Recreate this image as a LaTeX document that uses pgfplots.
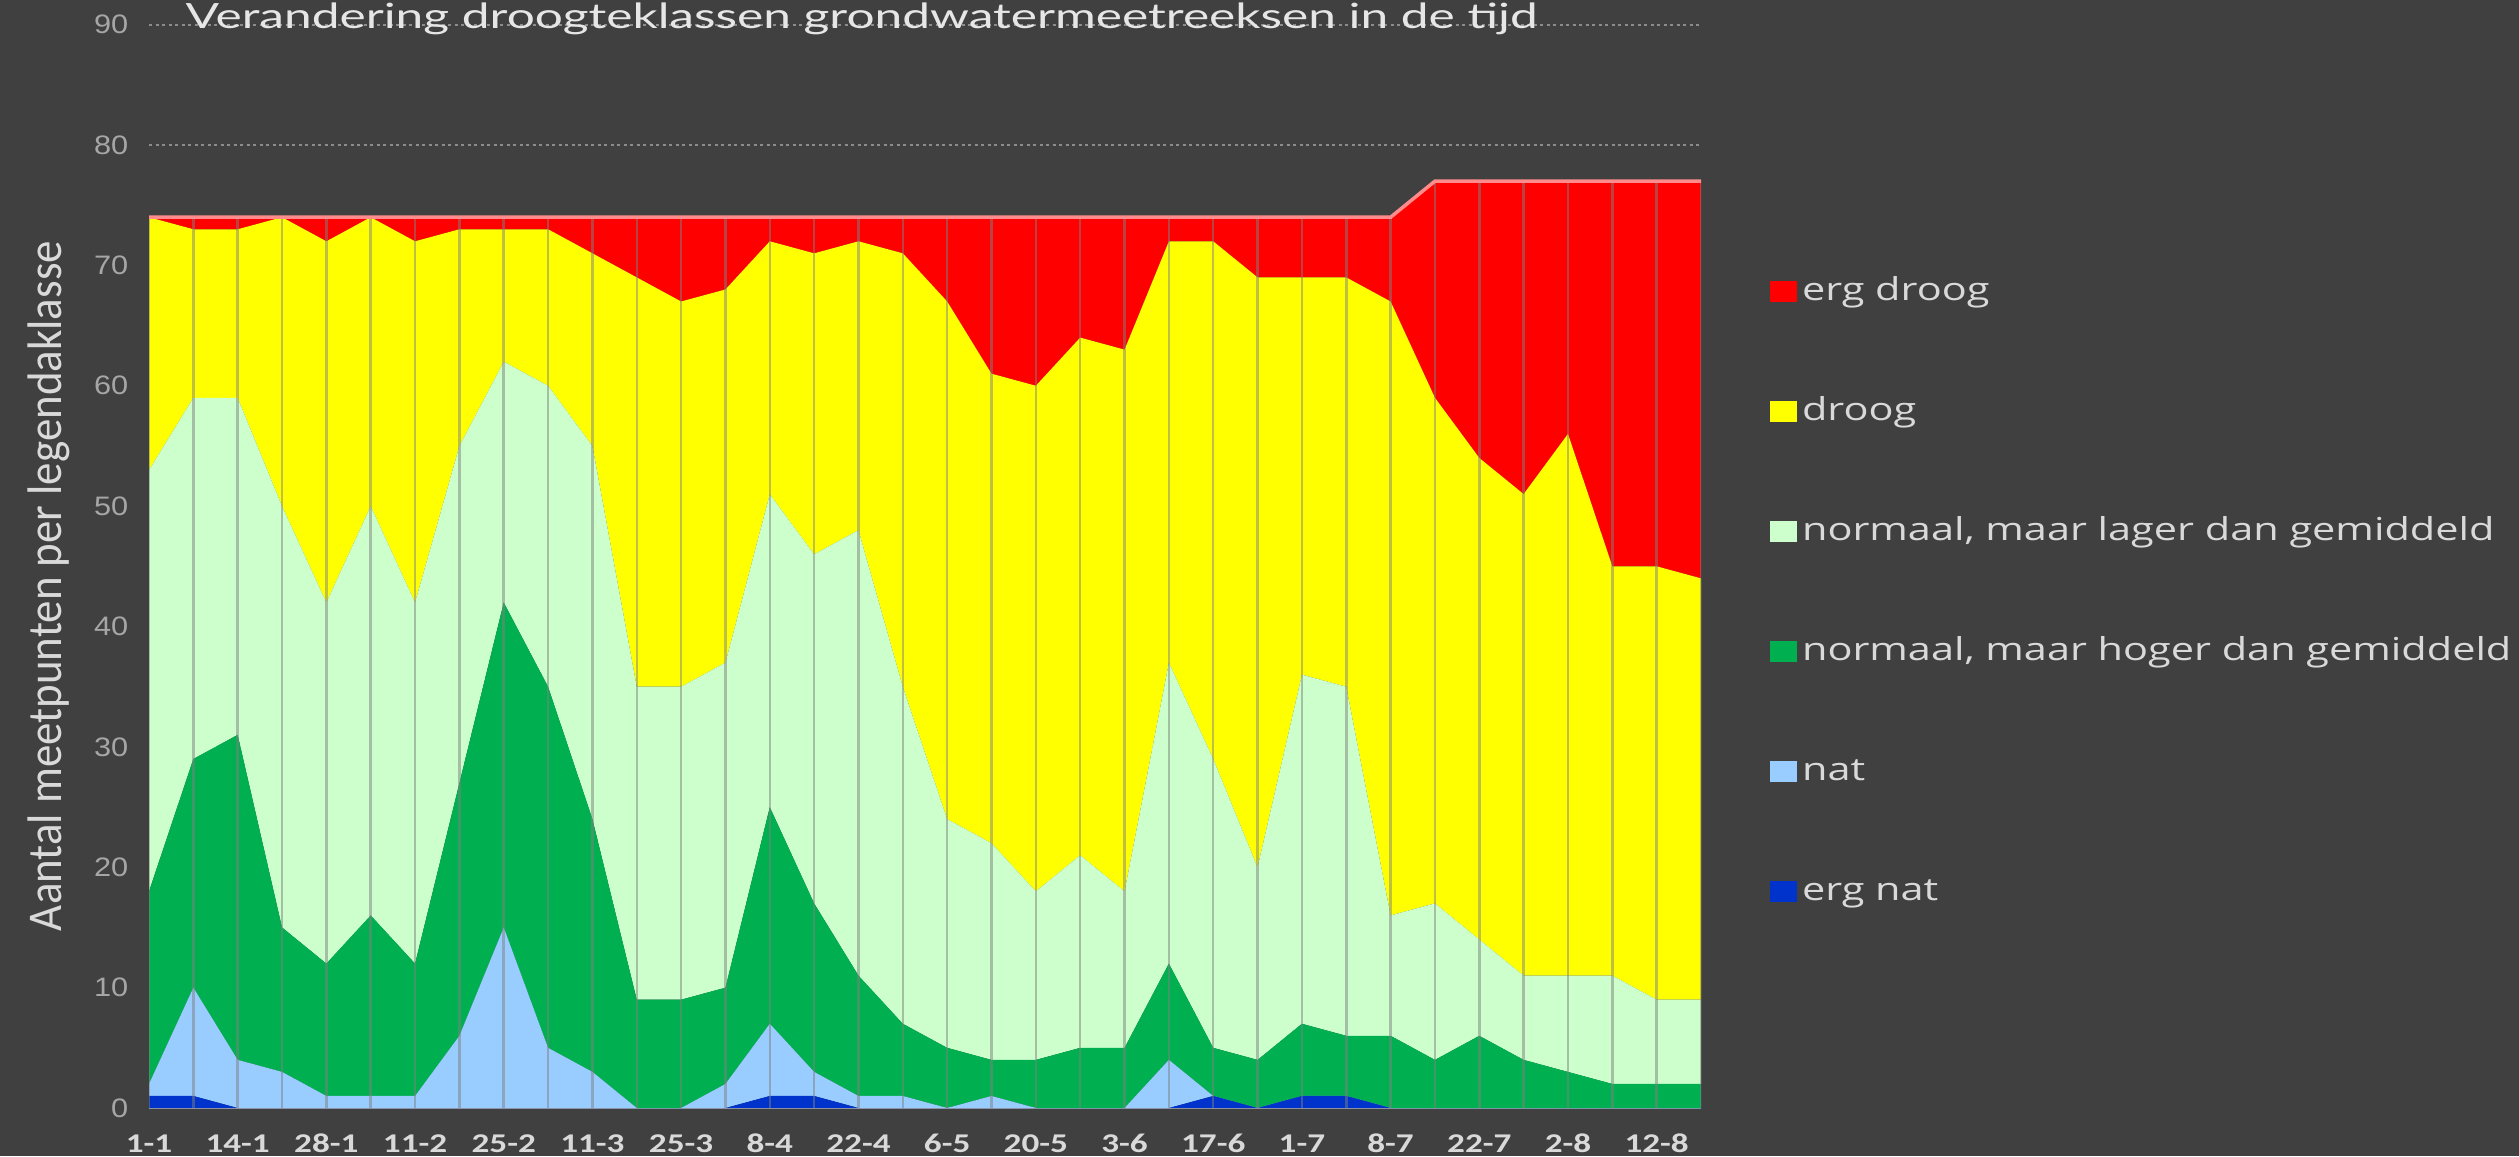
\documentclass[border=0pt]{standalone}
\usepackage{pgfplots}
\pgfplotsset{compat=1.18}
\usepackage{pgfplotstable}
\usepackage{graphicx}
\usepackage{fontspec}
\setmainfont{Carlito}
\newfontfamily\titlefont{Lato}
\newfontfamily\legfont{Open Sans}
\newfontfamily\ytfont{Liberation Sans}
\definecolor{bg}{HTML}{404040}
\definecolor{cErgDroog}{HTML}{FF0000}
\definecolor{cDroog}{HTML}{FFFF00}
\definecolor{cLager}{HTML}{CCFFCC}
\definecolor{cHoger}{HTML}{00B050}
\definecolor{cNat}{HTML}{99CCFF}
\definecolor{cErgNat}{HTML}{0033CC}
\definecolor{titlegrey}{HTML}{E6E6E6}
\definecolor{labelgrey}{HTML}{D9D9D9}
\definecolor{tickgrey}{HTML}{D9D9D9}
\definecolor{ytgrey}{HTML}{A6A6A6}
\definecolor{leggrey}{HTML}{D9D9D9}
\definecolor{gridgrey}{HTML}{8C8C8C}
\definecolor{pinkline}{HTML}{FF8C8C}
\newcommand\sx[1]{\scalebox{1.3}[1]{#1}}
\newcommand\sxl[1]{\scalebox{1.31}[1]{#1}}
\newcommand\sy[1]{\scalebox{1.15}[1]{#1}}

\pgfplotstableread{
x ergnat nat hoger lager droog ergdroog total
0 1 1 16 35 21 0 74
1 1 9 19 30 14 1 74
2 0 4 27 28 14 1 74
3 0 3 12 35 24 0 74
4 0 1 11 30 30 2 74
5 0 1 15 34 24 0 74
6 0 1 11 30 30 2 74
7 0 6 21 28 18 1 74
8 0 15 27 20 11 1 74
9 0 5 30 25 13 1 74
10 0 3 21 31 16 3 74
11 0 0 9 26 34 5 74
12 0 0 9 26 32 7 74
13 0 2 8 27 31 6 74
14 1 6 18 26 21 2 74
15 1 2 14 29 25 3 74
16 0 1 10 37 24 2 74
17 0 1 6 28 36 3 74
18 0 0 5 19 43 7 74
19 0 1 3 18 39 13 74
20 0 0 4 14 42 14 74
21 0 0 5 16 43 10 74
22 0 0 5 13 45 11 74
23 0 4 8 25 35 2 74
24 1 0 4 24 43 2 74
25 0 0 4 16 49 5 74
26 1 0 6 29 33 5 74
27 1 0 5 29 34 5 74
28 0 0 6 10 51 7 74
29 0 0 4 13 42 18 77
30 0 0 6 8 40 23 77
31 0 0 4 7 40 26 77
32 0 0 3 8 45 21 77
33 0 0 2 9 34 32 77
34 0 0 2 7 36 32 77
35 0 0 2 7 35 33 77
}\datatable

\begin{document}
\begin{tikzpicture}
\useasboundingbox (0,0) rectangle (251.9mm,115.6mm);
\fill[bg] (0,0) rectangle (251.9mm,115.6mm);
\clip (0,0) rectangle (251.9mm,115.6mm);
\begin{axis}[
  scale only axis,
  width=155.2mm, height=108.34mm,
  at={(14.9mm,4.8mm)}, anchor=south west,
  xmin=0, xmax=35, ymin=0, ymax=90,
  enlargelimits=false,
  stack plots=y,
  axis lines*=left,
  y axis line style={draw=none},
  x axis line style={draw=gray!75, line width=0.25mm},
  major tick length=0pt,
  tick style={draw=none},
  xtick={0,2,...,34},
  xticklabels={\sx{1-1},\sx{14-1},\sx{28-1},\sx{11-2},\sx{25-2},\sx{11-3},\sx{25-3},\sx{8-4},\sx{22-4},\sx{6-5},\sx{20-5},\sx{3-6},\sx{17-6},\sx{1-7},\sx{8-7},\sx{22-7},\sx{2-8},\sx{12-8}},
  xticklabel style={font=\bfseries\fontsize{7.7}{8}\selectfont, text=tickgrey, anchor=base, inner sep=0pt, yshift=-4.4mm},
  ytick={0,10,20,30,40,50,60,70,80,90},
  yticklabels={\sy{0},\sy{10},\sy{20},\sy{30},\sy{40},\sy{50},\sy{60},\sy{70},\sy{80},\sy{90}},
  yticklabel style={font=\ytfont\fontsize{7.6}{8}\selectfont, text=ytgrey, anchor=east, inner sep=0pt, xshift=-2.0mm},
  ymajorgrids,
  grid style={draw=gridgrey, line width=0.2mm, dash pattern=on 0.3mm off 0.35mm},
  every axis plot/.append style={no marks},
  legend image code/.code={\fill[#1] (0mm,-1.05mm) rectangle (2.7mm,1.05mm);},
  reverse legend,
  legend cell align=left,
  legend style={at={(1.0445,0.7698)}, anchor=north west, draw=none, fill=none,
    inner sep=0pt, outer sep=0pt, row sep=8.5mm,
    font=\legfont\fontsize{9}{10}\selectfont, text=leggrey,
    nodes={inner sep=0pt, text height=2.6mm, text depth=0.9mm},
    /tikz/every odd column/.append style={column sep=0.5mm}},
]
\addplot[fill=cErgNat, draw=none] table[x=x, y=ergnat]{\datatable} \closedcycle;
\addlegendentry{\sxl{erg nat}}
\addplot[fill=cNat, draw=none] table[x=x, y=nat]{\datatable} \closedcycle;
\addlegendentry{\sxl{nat}}
\addplot[fill=cHoger, draw=none] table[x=x, y=hoger]{\datatable} \closedcycle;
\addlegendentry{\sxl{normaal, maar hoger dan gemiddeld}}
\addplot[fill=cLager, draw=none] table[x=x, y=lager]{\datatable} \closedcycle;
\addlegendentry{\sxl{normaal, maar lager dan gemiddeld}}
\addplot[fill=cDroog, draw=none] table[x=x, y=droog]{\datatable} \closedcycle;
\addlegendentry{\sxl{droog}}
\addplot[fill=cErgDroog, draw=none] table[x=x, y=ergdroog]{\datatable} \closedcycle;
\addlegendentry{\sxl{erg droog}}
\end{axis}
\begin{axis}[
  scale only axis,
  width=155.2mm, height=108.34mm,
  at={(14.9mm,4.8mm)}, anchor=south west,
  xmin=0, xmax=35, ymin=0, ymax=90,
  hide axis,
]
\addplot[ycomb, no marks, draw=gray, draw opacity=0.5, line width=0.25mm] table[x=x, y=total]{\datatable};
\addplot[no marks, draw=pinkline, line width=0.35mm] table[x=x, y=total]{\datatable};
\end{axis}
\node[anchor=base west, inner sep=0pt, text=titlegrey] at (18.5mm,112.8mm)
  {\resizebox{135.2mm}{1.1\height}{\titlefont\fontsize{9}{10}\selectfont Verandering droogteklassen grondwatermeetreeksen in de tijd}};
\node[rotate=90, anchor=center, inner sep=0pt, text=labelgrey] at (4.9mm,57.0mm)
  {\resizebox{69mm}{1.15\height}{\fontsize{12}{14}\selectfont Aantal meetpunten per legendaklasse}};
\end{tikzpicture}
\end{document}
